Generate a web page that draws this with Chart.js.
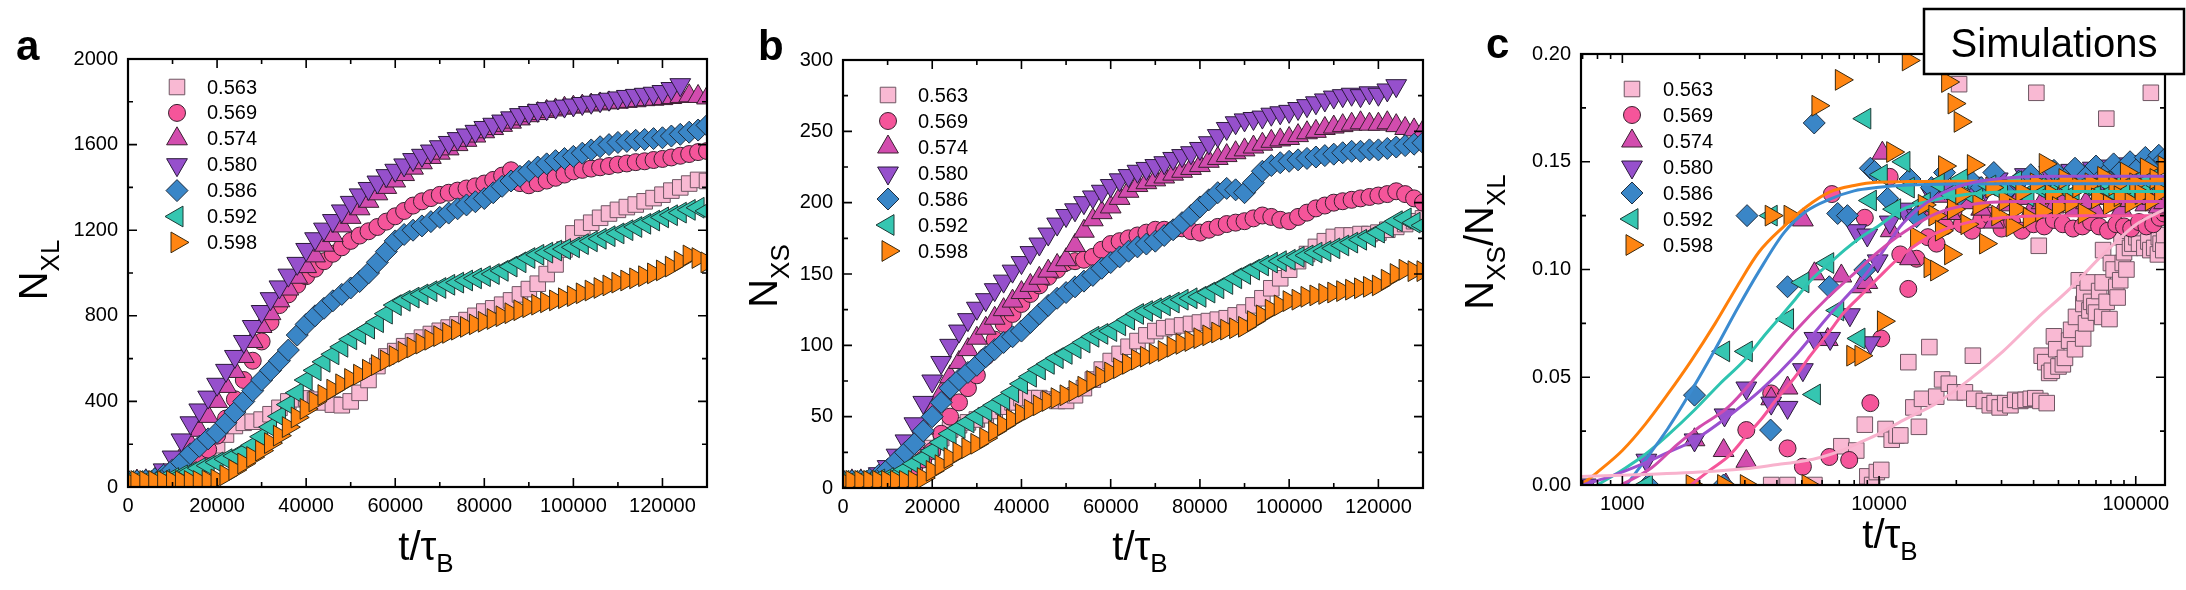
<!DOCTYPE html>
<html><head><meta charset="utf-8">
<script src="https://cdn.jsdelivr.net/npm/chart.js@4.4.1/dist/chart.umd.min.js"></script>
<style>
html,body{margin:0;padding:0;background:#fff;width:2186px;height:590px;overflow:hidden}
canvas{position:absolute;top:0}
</style></head><body>
<canvas id="ca" width="730" height="590" style="left:0px"></canvas>
<canvas id="cb" width="730" height="590" style="left:730px"></canvas>
<canvas id="cc" width="726" height="590" style="left:1460px"></canvas>
<script>
// ---------- categories ----------
const seriesLabels = ['0.563','0.569','0.574','0.580','0.586','0.592','0.598'];
const T = [0,2000,4000,6000,8000,10000,12000,14000,16000,18000,20000,22000,24000,26000,28000,30000,32000,34000,36000,38000,40000,42000,44000,46000,48000,50000,52000,54000,56000,58000,60000,62000,64000,66000,68000,70000,72000,74000,76000,78000,80000,82000,84000,86000,88000,90000,92000,94000,96000,98000,100000,102000,104000,106000,108000,110000,112000,114000,116000,118000,120000,122000,124000,126000,128000,130000];

// ---------- panel a : N_XL ----------
const a563 = [28,28,28,28,30,34,45,65,100,145,195,245,285,300,305,315,340,370,400,410,414,408,395,385,382,400,440,500,565,610,635,658,680,698,715,730,745,760,780,800,820,835,852,872,900,925,950,995,1040,1110,1185,1212,1235,1258,1278,1295,1308,1320,1335,1350,1366,1385,1400,1418,1435,1430];
const a569 = [28,28,28,29,32,40,55,80,120,175,240,320,410,500,590,680,770,850,900,945,985,1020,1055,1090,1120,1150,1175,1195,1215,1240,1265,1290,1315,1335,1350,1365,1375,1385,1395,1405,1418,1435,1455,1480,1420,1410,1420,1432,1445,1460,1475,1482,1488,1494,1500,1507,1512,1518,1522,1528,1533,1540,1548,1556,1565,1570];
const a574 = [28,28,29,35,55,90,140,200,265,330,400,470,540,610,680,750,810,870,925,980,1030,1080,1130,1175,1220,1260,1300,1335,1370,1400,1430,1460,1490,1515,1540,1560,1580,1600,1620,1640,1660,1675,1690,1705,1720,1735,1745,1755,1762,1770,1775,1780,1785,1790,1795,1798,1802,1805,1810,1812,1815,1820,1825,1828,1825,1818];
const a580 = [30,30,32,45,80,140,220,300,360,420,480,545,610,680,750,820,880,935,990,1045,1110,1160,1205,1245,1290,1330,1365,1395,1425,1455,1480,1505,1530,1550,1570,1590,1610,1628,1645,1662,1680,1695,1710,1725,1740,1750,1760,1768,1775,1780,1785,1792,1798,1805,1812,1818,1825,1830,1835,1840,1848,1862,1880,null,null,null];
const a586 = [28,28,30,38,55,80,115,155,190,225,255,300,350,400,450,500,545,590,640,710,760,800,835,870,900,930,960,1000,1050,1100,1150,1180,1200,1220,1240,1260,1280,1300,1318,1333,1348,1375,1405,1430,1452,1475,1495,1510,1525,1535,1545,1560,1575,1590,1600,1610,1615,1620,1624,1628,1632,1640,1648,1658,1668,1690];
const a592 = [28,28,28,30,34,42,55,70,88,100,115,130,145,165,195,235,280,330,385,440,500,545,585,620,655,690,715,740,770,810,850,870,885,900,915,930,945,955,965,975,985,995,1010,1030,1050,1070,1085,1095,1105,1112,1120,1135,1148,1160,1172,1185,1200,1215,1230,1245,1260,1270,1282,1295,1305,1290];
const a598 = [28,28,28,28,28,28,28,28,28,30,35,55,80,110,140,170,205,240,280,325,365,400,430,455,480,505,525,548,570,592,612,632,652,670,688,705,720,735,748,760,772,785,798,812,826,840,852,863,872,882,892,905,918,930,942,955,965,975,985,998,1012,1030,1055,1082,1070,1050];

// ---------- panel b : N_XS ----------
const b563 = [5,5,5,5,5,6,8,12,17,22,28,35,41,44,46,48,51,54,57,60,63,63,63,62,61,61,65,70,76,83,89,94,99,103,107,110,112,113,114,115,116,117,118,119,121,123,128,133,140,147,153,159,164,169,173,176,177,177,178,178,179,181,183,185,187,189];
const b569 = [5,5,5,5,5,6,8,11,15,20,26,38,50,60,70,79,92,104,115,122,129,136,142,148,153,158,159,160,162,167,171,173,175,177,179,181,181,181,182,180,179,181,183,185,186,187,189,191,190,188,187,190,193,196,198,200,201,202,203,204,205,206,208,206,203,200];
const b574 = [5,5,5,5,7,10,15,22,31,42,54,66,78,88,97,105,112,119,125,131,137,142,147,152,156,160,170,180,188,193,197,203,208,212,214,216,218,220,222,224,226,229,231,233,235,237,239,241,243,244,245,247,249,250,252,253,254,255,256,255,255,256,254,252,251,250];
const b580 = [5,5,5,7,10,15,23,33,45,60,75,88,100,110,118,126,132,139,145,152,158,165,171,178,185,191,195,200,204,208,212,216,219,222,224,226,228,231,233,235,238,242,247,252,256,258,259,260,262,263,264,266,268,270,272,274,275,276,275,277,276,279,282,null,null,null];
const b586 = [5,5,5,6,9,13,19,25,31,40,50,60,70,76,81,86,92,97,102,106,110,116,122,128,133,137,141,145,149,154,158,162,166,169,171,173,177,181,186,191,197,202,207,210,209,207,214,222,226,228,229,230,231,232,233,234,235,236,236,237,237,238,239,240,241,242];
const b592 = [5,5,5,5,6,7,9,13,17,21,26,32,38,42,46,50,54,58,62,67,73,78,83,87,91,94,98,102,106,108,110,114,118,122,124,126,128,130,132,133,134,137,140,143,147,150,153,156,158,159,160,162,163,165,166,168,170,172,174,176,179,183,187,189,186,184];
const b598 = [5,5,5,5,5,5,5,5,5,7,12,16,21,25,28,31,35,40,44,48,52,55,58,61,63,65,68,71,75,78,81,84,87,90,92,94,96,99,101,103,105,107,109,111,112,113,117,121,125,128,131,132,134,135,136,137,138,139,140,141,142,146,150,153,152,152];

// ---------- panel c : N_XS/N_XL (t, ratio) ----------
const c563 = [[3800,0],[4400,0],[5600,0],[7130,0.018],[8150,0.016],[8800,0.028],[9000,0.004],[9400,0],[9800,0.006],[10200,0.007],[10600,0.026],[11200,0.021],[11700,0.023],[12100,0.023],[13000,0.057],[13600,0.036],[14300,0.027],[14700,0.040],[15700,0.064],[16700,0.041],[17600,0.049],[18700,0.047],[19800,0.043],[20500,0.186],[21600,0.043],[23200,0.060],[23500,0.040],[25600,0.039],[27000,0.037],[28200,0.038],[29500,0.036],[31000,0.038],[32500,0.037],[33900,0.0395],[35500,0.039],[37200,0.0395],[39000,0.040],[40600,0.0403],[41000,0.182],[41900,0.111],[42500,0.039],[43000,0.060],[44400,0.057],[45000,0.038],[46000,0.052],[47100,0.053],[48000,0.069],[49000,0.063],[50000,0.055],[52000,0.056],[53000,0.059],[55000,0.067],[56000,0.072],[58000,0.063],[58500,0.078],[60000,0.095],[62400,0.068],[62500,0.084],[63000,0.089],[64000,0.075],[65000,0.094],[66000,0.081],[67000,0.085],[69000,0.083],[70000,0.080],[72000,0.090],[74000,0.078],[74300,0.094],[74600,0.109],[76800,0.170],[77000,0.085],[79000,0.077],[80000,0.103],[82000,0.100],[84000,0.092],[85000,0.087],[87000,0.095],[88000,0.115],[89000,0.103],[90000,0.108],[92000,0.100],[94000,0.118],[95000,0.110],[97000,0.112],[100600,0.115],[103000,0.112],[108000,0.110],[112000,0.113],[114000,0.109],[114500,0.182],[118000,0.110],[122000,0.107],[123000,0.115],[125000,0.112],[128000,0.109],[129000,0.116]];
const c569 = [[3040,0.0255],[3800,0.0425],[4400,0.017],[5050,0.0085],[6400,0.013],[6550,0.135],[7650,0.0116],[8800,0.124],[9250,0.038],[10200,0.068],[11000,0.143],[12100,0.107],[13000,0.091],[14000,0.105],[15500,0.115],[16750,0.112],[18100,0.120],[19500,0.127],[21000,0.121],[23000,0.118],[25000,0.123],[27000,0.125],[30000,0.119],[33000,0.122],[36000,0.118],[40000,0.121],[44000,0.120],[48000,0.123],[52000,0.121],[57000,0.119],[62000,0.120],[67000,0.122],[72000,0.120],[78000,0.118],[84000,0.121],[90000,0.120],[96000,0.119],[103000,0.122],[110000,0.120],[117000,0.121],[124000,0.124],[129000,0.126]];
const c574 = [[1910,0.021],[2480,0.016],[2530,0],[3040,0.011],[3800,0.040],[4400,0.045],[5050,0.123],[5600,0.098],[6310,0.0675],[7130,0.097],[8500,0.092],[9000,0.094],[10300,0.154],[11100,0.118],[13200,0.105],[15000,0.128],[17000,0.134],[19000,0.126],[22000,0.131],[25000,0.128],[28000,0.122],[31000,0.130],[35000,0.133],[39000,0.127],[43000,0.131],[48000,0.129],[53000,0.134],[58000,0.128],[64000,0.131],[70000,0.127],[76000,0.133],[82000,0.130],[88000,0.128],[95000,0.132],[102000,0.135],[109000,0.130],[116000,0.133],[123000,0.129],[129000,0.131]];
const c580 = [[720,0],[1240,0.0115],[1910,0.0209],[2500,0.0325],[3040,0.045],[3800,0.038],[4400,0.036],[5050,0.0535],[5600,0.068],[6450,0.068],[7700,0.079],[8150,0.118],[9000,0.116],[9250,0.066],[9880,0.104],[11000,0.122],[12500,0.128],[14000,0.125],[16000,0.135],[18000,0.138],[20000,0.132],[23000,0.140],[26000,0.137],[29000,0.142],[33000,0.139],[37000,0.144],[41000,0.141],[46000,0.145],[51000,0.140],[56000,0.146],[62000,0.143],[68000,0.147],[74000,0.142],[80000,0.148],[87000,0.144],[94000,0.149],[101000,0.146],[108000,0.150],[115000,0.147],[122000,0.151],[129000,0.152]];
const c586 = [[1260,0],[1910,0.0417],[2480,0],[3060,0.125],[3780,0.0255],[4400,0.092],[5590,0.168],[6400,0.092],[6900,0.126],[7530,0.125],[8800,0.0998],[9250,0.147],[9600,0.1455],[10800,0.133],[13200,0.142],[14000,0.1245],[16000,0.138],[18000,0.145],[20000,0.133],[22500,0.142],[25000,0.138],[28000,0.145],[31000,0.136],[35000,0.141],[39000,0.144],[43000,0.139],[48000,0.146],[53000,0.142],[58000,0.147],[64000,0.143],[70000,0.148],[76000,0.144],[82000,0.149],[88000,0.146],[95000,0.150],[102000,0.147],[109000,0.152],[116000,0.149],[123000,0.153],[129000,0.151]];
const c592 = [[1240,0],[2480,0.062],[3040,0.062],[3800,0.125],[4400,0.077],[5050,0.094],[5600,0.042],[6310,0.103],[6900,0.081],[8350,0.068],[8800,0.170],[9250,0.132],[10200,0.144],[11500,0.128],[12500,0.150],[13000,0.138],[15000,0.131],[17000,0.140],[19000,0.135],[21000,0.142],[24000,0.133],[27000,0.139],[30000,0.136],[34000,0.141],[38000,0.134],[42000,0.138],[47000,0.136],[52000,0.140],[57000,0.135],[63000,0.139],[69000,0.137],[75000,0.141],[81000,0.136],[87000,0.140],[94000,0.137],[101000,0.141],[108000,0.138],[115000,0.142],[122000,0.139],[129000,0.137]];
const c598 = [[1870,0],[2480,0],[3040,0],[3800,0.125],[4500,0.125],[5290,0],[5780,0.176],[7130,0.188],[7900,0.060],[8500,0.060],[10400,0.076],[11300,0.1545],[13000,0.197],[14000,0.115],[15000,0.130],[15800,0.101],[16500,0.125],[16760,0.0995],[17500,0.118],[18000,0.148],[18500,0.187],[19000,0.107],[19500,0.128],[19600,0.177],[20700,0.1685],[21000,0.135],[22000,0.121],[23300,0.1485],[24500,0.130],[26000,0.112],[27500,0.138],[29000,0.125],[31000,0.132],[33000,0.120],[34000,0.128],[36000,0.136],[38500,0.124],[41000,0.140],[43000,0.127],[44400,0.149],[47000,0.135],[50000,0.129],[53000,0.142],[56000,0.131],[60000,0.138],[63000,0.126],[67000,0.140],[71000,0.133],[75000,0.143],[79000,0.130],[83000,0.139],[87000,0.134],[92000,0.145],[96000,0.131],[100000,0.140],[105000,0.135],[110000,0.147],[115000,0.132],[120000,0.142],[125000,0.136],[129000,0.148]];

// fitted curves
const fit563 = [[690,0.004],[1000,0.0045],[2000,0.006],[3000,0.0075],[4030,0.0095],[5000,0.011],[6000,0.013],[7330,0.0165],[8500,0.020],[9880,0.0235],[12400,0.030],[16750,0.038],[22550,0.049],[30400,0.062],[41000,0.077],[55300,0.091],[74600,0.107],[100600,0.121],[130000,0.128]];
const fit569 = [[1850,0],[2200,0.007],[2600,0.0135],[3000,0.022],[3500,0.031],[4000,0.040],[4700,0.050],[5400,0.060],[6300,0.070],[7300,0.080],[8500,0.088],[9900,0.096],[12400,0.107],[16750,0.117],[22500,0.122],[30000,0.124],[45000,0.125],[130000,0.125]];
const fit574 = [[990,0],[1300,0.008],[1644,0.019],[2000,0.027],[2576,0.036],[3470,0.053],[4680,0.071],[6310,0.087],[8510,0.101],[9880,0.108],[12400,0.117],[16750,0.126],[22500,0.130],[35000,0.1315],[130000,0.1315]];
const fit580 = [[700,0],[900,0.004],[1219,0.0101],[1500,0.015],[1910,0.0209],[2576,0.0317],[3470,0.0441],[4680,0.0595],[6310,0.078],[8510,0.095],[9880,0.105],[12400,0.1215],[16750,0.134],[22500,0.140],[30000,0.1423],[50000,0.1433],[130000,0.1433]];
const fit586 = [[1038,0],[1200,0.010],[1500,0.026],[1853,0.0436],[2300,0.063],[2811,0.082],[3400,0.099],[4258,0.117],[5200,0.127],[6442,0.1327],[8000,0.1365],[9770,0.138],[13000,0.1392],[20000,0.1397],[40000,0.1398],[130000,0.1398]];
const fit592 = [[800,0],[1000,0.007],[1219,0.0139],[1500,0.023],[1910,0.0348],[2400,0.047],[2992,0.058],[3500,0.068],[4030,0.0766],[4700,0.086],[5430,0.095],[6300,0.102],[7330,0.109],[8500,0.115],[9880,0.120],[12400,0.128],[16750,0.1325],[22500,0.135],[30000,0.136],[50000,0.1362],[130000,0.1362]];
const fit598 = [[690,0],[800,0.006],[1000,0.016],[1225,0.028],[1500,0.042],[1853,0.0576],[2300,0.075],[2811,0.0925],[3400,0.108],[4258,0.120],[5200,0.129],[6442,0.136],[8000,0.139],[9770,0.1405],[13000,0.1408],[20000,0.141],[130000,0.141]];

// tick label values
const logLabels = [1000, 10000, 100000];

// ---------- styles ----------
const FONT = '"Liberation Sans", Arial, Helvetica, sans-serif';
const fills  = ['#F9B9D3','#F5559A','#D24CAE','#9650CC','#3A86C7','#35C6B1','#FF8512'];
const edges  = ['#6e5663','#3a2030','#3a2030','#2a1a3a','#1e2e40','#1e3a36','#3a2a10'];
const lineCols = ['#F8B2CD','#F5559A','#D24CAE','#9A50D0','#3B8BD0','#2EC4B0','#FF7F0A'];
const shapes = ['rect','circle','triangle','triangle','rectRot','triangle','triangle'];
const rots   = [0,0,0,180,0,-90,90];
const radii  = [11,8.5,12,12,11,12,12];

Chart.defaults.font.family = FONT;
Chart.defaults.color = '#000';

function ptsFrom(xs, ys){ const out=[]; xs.forEach((x,k)=>{ if(ys[k]!=null) out.push({x:x,y:ys[k]}); }); return out; }
function ptsPairs(p){ return p.map(q=>({x:q[0],y:q[1]})); }

function scatterSet(i, pts){
  return { label: seriesLabels[i], data: pts, showLine:false,
    pointStyle: shapes[i], pointRotation: rots[i], pointRadius: radii[i], pointHoverRadius: radii[i],
    pointBackgroundColor: fills[i], pointBorderColor: edges[i], pointBorderWidth: 1,
    backgroundColor: fills[i], borderColor: edges[i], clip: 0, order: 10 - i };
}
function curveSet(i, pts){
  return { type:'line', label:'fit '+seriesLabels[i], data: pts, showLine:true, borderColor: lineCols[i], borderWidth:3,
    pointRadius:0, pointHoverRadius:0, fill:false, cubicInterpolationMode:'monotone', clip:0, order: 0 };
}

function drawMarker(ctx, i, x, y){
  ctx.save();
  ctx.fillStyle = fills[i]; ctx.strokeStyle = edges[i]; ctx.lineWidth = 1;
  if (Chart.helpers && Chart.helpers.drawPoint) {
    Chart.helpers.drawPoint(ctx, {pointStyle: shapes[i], rotation: rots[i], radius: radii[i], borderWidth: 1}, x, y);
  } else {
    const r = radii[i]; ctx.beginPath();
    if (shapes[i]==='circle') ctx.arc(x,y,r,0,Math.PI*2);
    else if (shapes[i]==='rect') { const s=r*Math.SQRT1_2; ctx.rect(x-s,y-s,2*s,2*s); }
    else if (shapes[i]==='rectRot') { ctx.moveTo(x-r,y); ctx.lineTo(x,y-r); ctx.lineTo(x+r,y); ctx.lineTo(x,y+r); ctx.closePath(); }
    else { let a=rots[i]*Math.PI/180; for(let k=0;k<3;k++){ const px=x+Math.sin(a)*r, py=y-Math.cos(a)*r; if(k===0) ctx.moveTo(px,py); else ctx.lineTo(px,py); a+=2*Math.PI/3; } ctx.closePath(); }
    ctx.fill(); ctx.stroke();
  }
  ctx.restore();
}

function rich(ctx, parts, x, y, rotated){
  ctx.save();
  ctx.translate(x, y);
  if (rotated) ctx.rotate(-Math.PI/2);
  let w = 0; const ws = [];
  parts.forEach(p=>{ ctx.font = p.s+'px '+FONT; const m = ctx.measureText(p.t).width; ws.push(m); w += m; });
  let cx = -w/2;
  ctx.fillStyle = '#000'; ctx.textAlign = 'left'; ctx.textBaseline = 'alphabetic';
  parts.forEach((p,k)=>{ ctx.font = p.s+'px '+FONT; ctx.fillText(p.t, cx, p.d||0); cx += ws[k]; });
  ctx.restore();
}

const xTitle = [{t:'t/\u03C4', s:40},{t:'B', s:26, d:12}];
const DECOR = {
  ca: { letter:'a', lx:16, ly:60, yTitle:[{t:'N',s:40},{t:'XL',s:26,d:12}], ytx:47, yty:270, xtx:426, xty:560,
        legX:177, legTX:207, legY:87, legDY:25.9 },
  cb: { letter:'b', lx:28, ly:60, yTitle:[{t:'N',s:40},{t:'XS',s:26,d:12}], ytx:47, yty:276, xtx:410, xty:560,
        legX:158, legTX:188, legY:95, legDY:26 },
  cc: { letter:'c', lx:26, ly:58, yTitle:[{t:'N',s:40},{t:'XS',s:26,d:12},{t:'/',s:40},{t:'N',s:40},{t:'XL',s:26,d:12}], ytx:33, yty:242, xtx:430, xty:548,
        legX:172, legTX:203, legY:89, legDY:26, log:true, box:true }
};

const decorPlugin = {
  id: 'decor',
  afterDatasetsDraw(chart){
    const d = DECOR[chart.canvas.id]; if(!d) return;
    const ctx = chart.ctx, a = chart.chartArea, xs = chart.scales.x, ys = chart.scales.y;
    ctx.save();
    ctx.strokeStyle = '#000'; ctx.lineWidth = 1.6; ctx.beginPath();
    let xt;
    if (d.log) {
      xt = [];
      [100,1000,10000,100000].forEach(dec=>{ for(let m=1;m<=9;m++){ const v=m*dec; if(v>=xs.min && v<=xs.max) xt.push({v:v, major:m===1}); } });
    } else {
      xt = xs.ticks.map(t=>({v:t.value, major: t.label!=='' }));
    }
    xt.forEach(t=>{ const p = xs.getPixelForValue(t.v); const L = t.major?9:5;
      ctx.moveTo(p,a.bottom); ctx.lineTo(p,a.bottom-L); ctx.moveTo(p,a.top); ctx.lineTo(p,a.top+L); });
    ys.ticks.forEach(t=>{ const p = ys.getPixelForValue(t.value); const L = t.label!==''?9:5;
      ctx.moveTo(a.left,p); ctx.lineTo(a.left+L,p); ctx.moveTo(a.right,p); ctx.lineTo(a.right-L,p); });
    ctx.stroke();
    ctx.lineWidth = 2.2; ctx.strokeRect(a.left, a.top, a.right-a.left, a.bottom-a.top);
    // legend
    ctx.font = '20px '+FONT; ctx.fillStyle='#000'; ctx.textBaseline='middle'; ctx.textAlign='left';
    seriesLabels.forEach((lab,i)=>{ const y = d.legY + i*d.legDY; drawMarker(ctx,i,d.legX,y); ctx.fillStyle='#000'; ctx.fillText(lab, d.legTX, y+1); });
    // letter
    ctx.font = 'bold 42px '+FONT; ctx.textBaseline='alphabetic'; ctx.fillText(d.letter, d.lx, d.ly);
    // titles
    rich(ctx, d.yTitle, d.ytx, d.yty, true);
    rich(ctx, xTitle, d.xtx, d.xty, false);
    if (d.box) {
      ctx.fillStyle='#fff'; ctx.fillRect(464,9,260,65);
      ctx.lineWidth=2.5; ctx.strokeStyle='#000'; ctx.strokeRect(464,9,260,65);
      ctx.fillStyle='#000'; ctx.font='40px '+FONT; ctx.textAlign='center'; ctx.textBaseline='alphabetic';
      ctx.fillText('Simulations', 594, 57);
    }
    ctx.restore();
  }
};

function makeChart(id, datasets, o){
  return new Chart(document.getElementById(id), {
    type:'scatter',
    data:{ datasets: datasets },
    options:{
      responsive:false, animation:false, devicePixelRatio:1, events:[],
      layout:{ padding:{ left:0, right:o.padR, top:o.padT, bottom:0 } },
      plugins:{ legend:{display:false}, tooltip:{enabled:false} },
      scales:{
        x:{ type:o.xType, min:o.xMin, max:o.xMax,
            grid:{display:false, drawTicks:false}, border:{display:false},
            ticks: Object.assign({ font:{size:20, family:FONT}, color:'#000', padding:7, autoSkip:false, maxRotation:0, minRotation:0 }, o.xTicks),
            afterFit(s){ s.height = o.xH; } },
        y:{ type:'linear', min:o.yMin, max:o.yMax,
            grid:{display:false, drawTicks:false}, border:{display:false},
            ticks: Object.assign({ font:{size:20, family:FONT}, color:'#000', padding:10, autoSkip:false }, o.yTicks),
            afterFit(s){ s.width = o.yW; } }
      }
    },
    plugins:[decorPlugin]
  });
}

const linX = { stepSize:10000, callback:(v)=> (Math.round(v)%20000===0 ? String(Math.round(v)) : '') };

const aSeries = [a563,a569,a574,a580,a586,a592,a598];
const bSeries = [b563,b569,b574,b580,b586,b592,b598];
const cSeries = [c563,c569,c574,c580,c586,c592,c598];
const cFits   = [fit563,fit569,fit574,fit580,fit586,fit592,fit598];

makeChart('ca', aSeries.map((s,i)=>scatterSet(i, ptsFrom(T,s))), {
  padR:23, padT:59, xH:103, yW:128, xType:'linear', xMin:0, xMax:130000, yMin:0, yMax:2000,
  xTicks: linX,
  yTicks: { stepSize:200, callback:(v)=> (Math.round(v)%400===0 ? String(Math.round(v)) : '') }
});

makeChart('cb', bSeries.map((s,i)=>scatterSet(i, ptsFrom(T,s))), {
  padR:37, padT:60, xH:102, yW:113, xType:'linear', xMin:0, xMax:130000, yMin:0, yMax:300,
  xTicks: linX,
  yTicks: { stepSize:25, callback:(v)=> (Math.round(v)%50===0 ? String(Math.round(v)) : '') }
});

const cData = cSeries.map((s,i)=>scatterSet(i, ptsPairs(s))).concat(cFits.map((s,i)=>curveSet(i, ptsPairs(s))));
makeChart('cc', cData, {
  padR:21, padT:54, xH:105, yW:121, xType:'logarithmic', xMin:690, xMax:130000, yMin:0, yMax:0.2,
  xTicks: { callback:(v)=> (logLabels.some(L=>Math.abs(L-v)<1e-6) ? String(v) : '') },
  yTicks: { stepSize:0.025, callback:(v)=>{ const k=Math.round(v/0.025); return k%2===0 ? (k*0.025).toFixed(2) : ''; } }
});
</script>
</body></html>
